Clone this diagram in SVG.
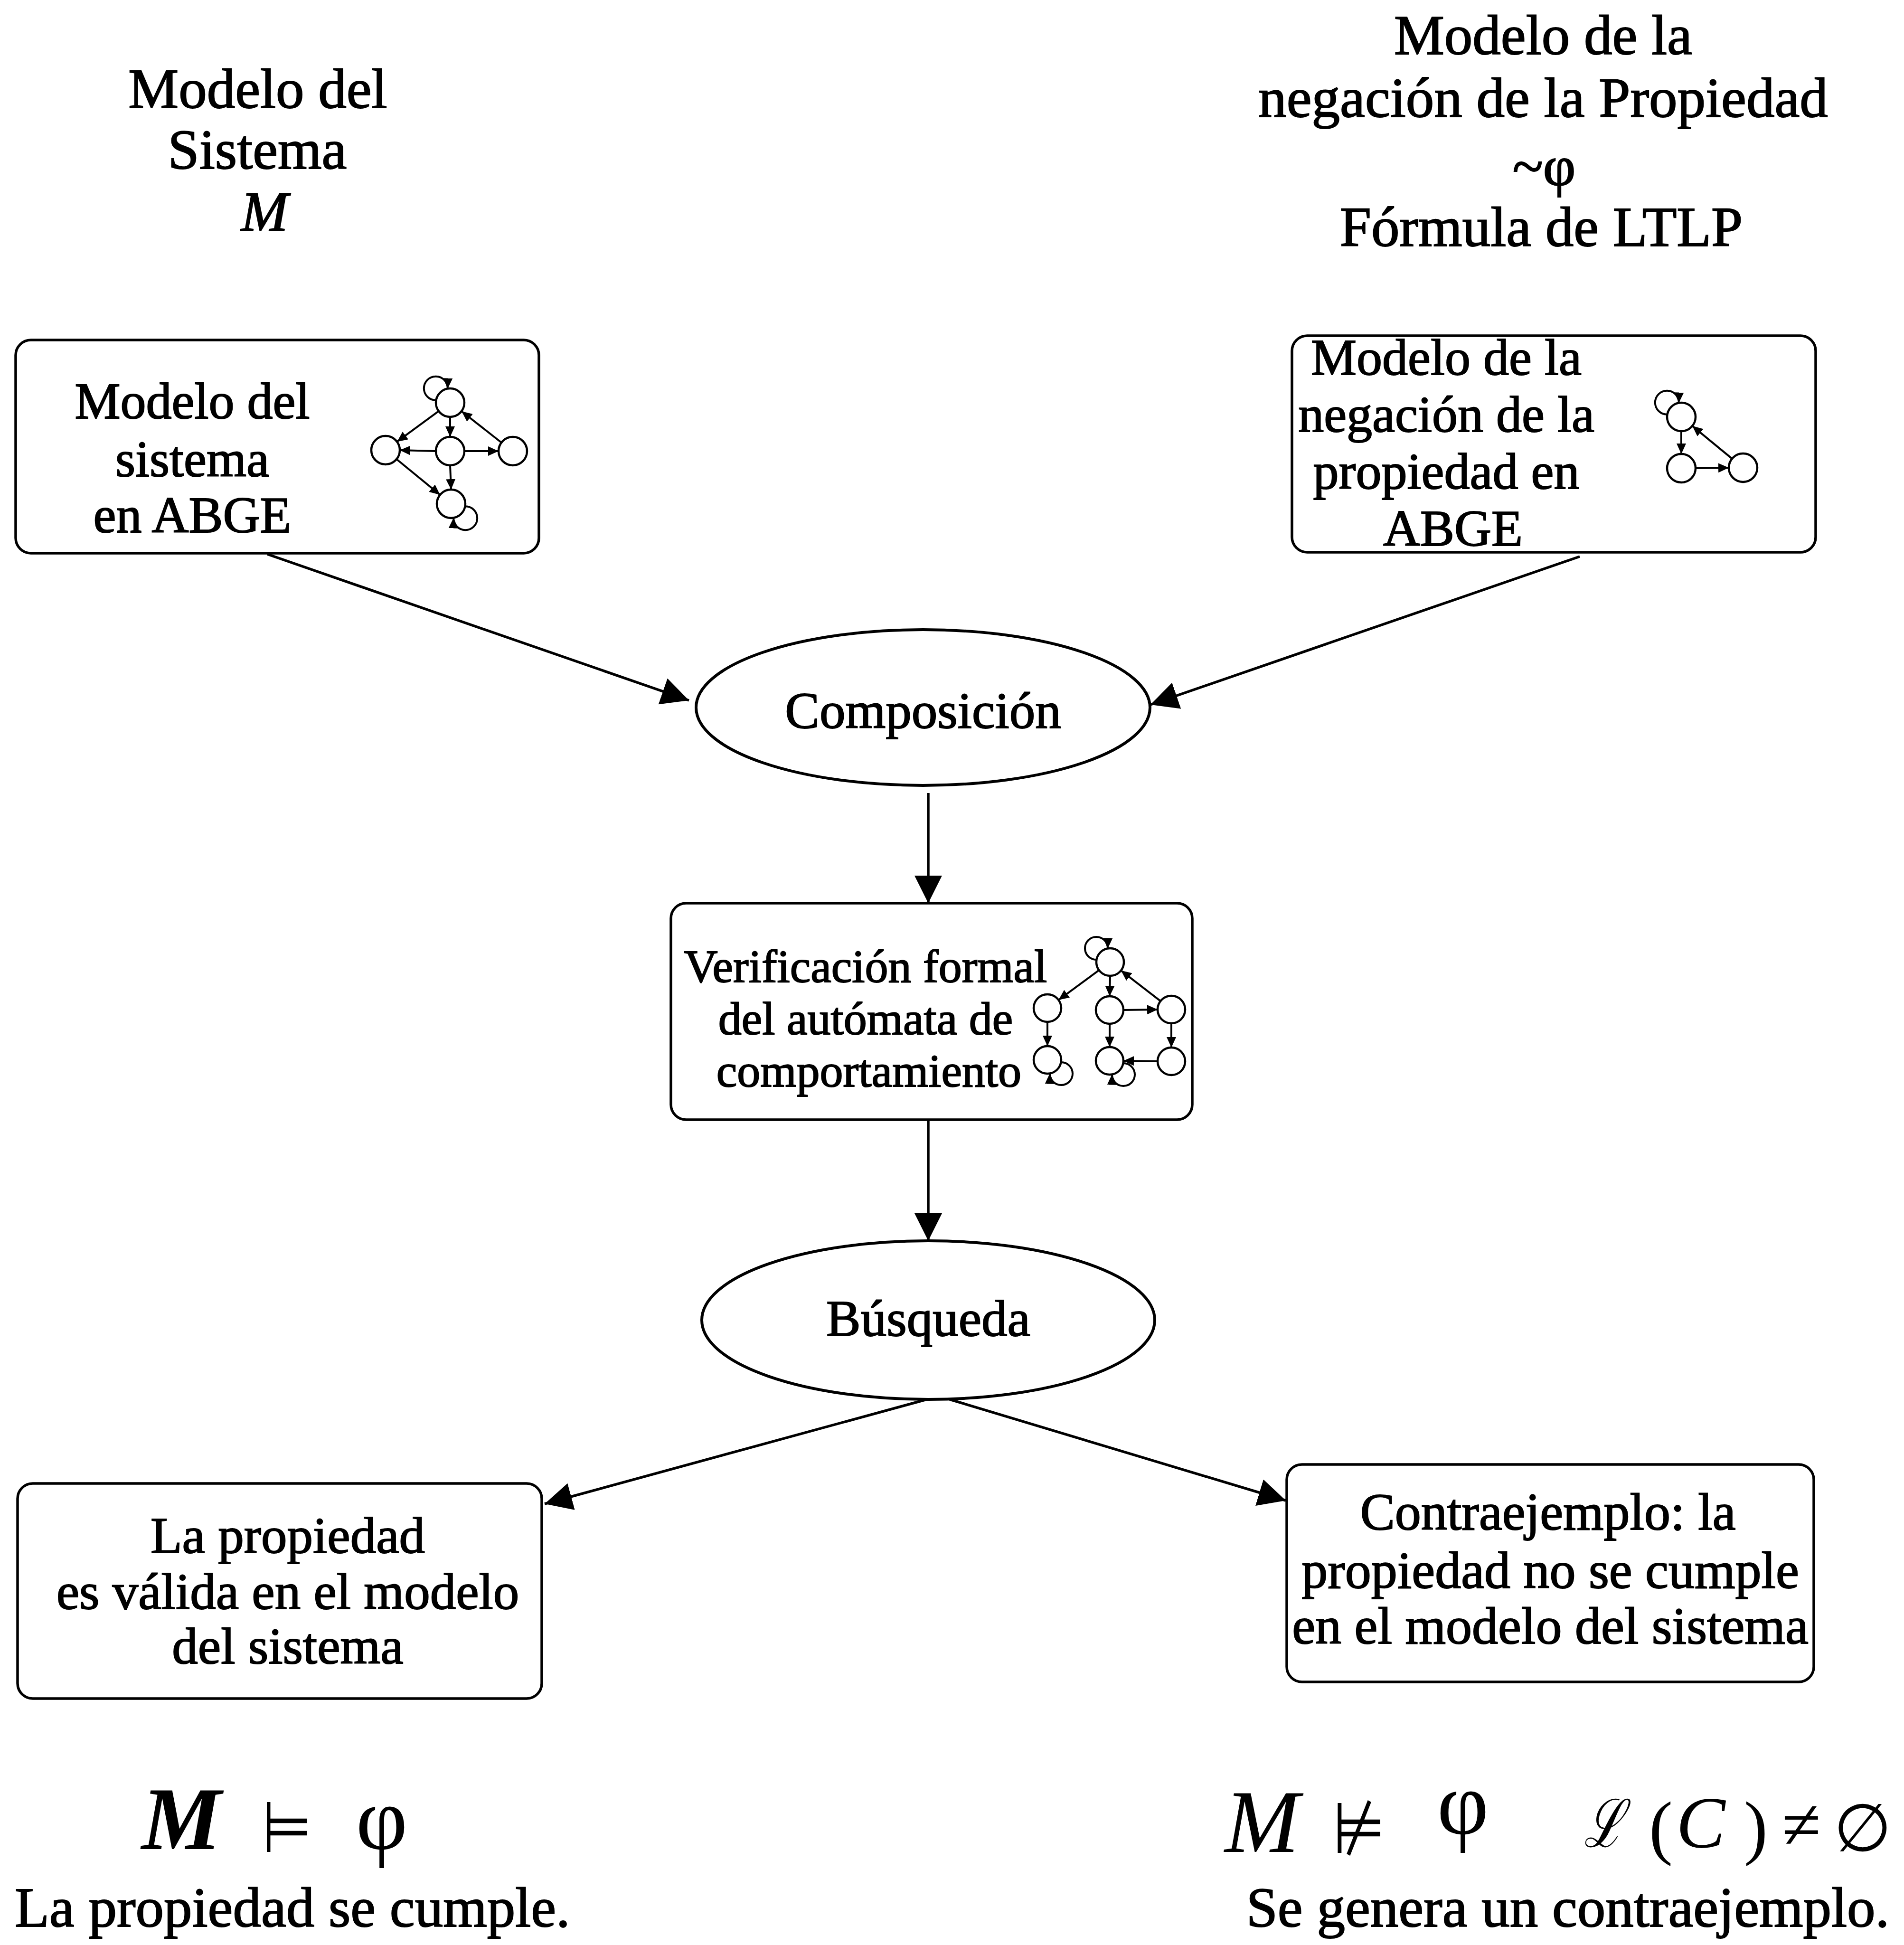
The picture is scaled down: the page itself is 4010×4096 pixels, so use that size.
<svg xmlns="http://www.w3.org/2000/svg" width="4010" height="4096" viewBox="0 0 4010 4096">
  <style>
    .box { fill: #fff; stroke: #000; stroke-width: 5.5; }
    .oval { fill: #fff; stroke: #000; stroke-width: 6; }
    .lbl { font-family: "Liberation Serif", "Times New Roman", serif; fill: #000; stroke: #000; stroke-width: 2; text-anchor: middle; }
    .st { fill: #fff; stroke: #000; stroke-width: 4.5; }
    .tr { fill: none; stroke: #000; stroke-width: 4; marker-end: url(#tip); }
    .conn { fill: none; stroke: #000; stroke-width: 5.5; marker-end: url(#head); }
    .math { font-family: "Liberation Serif", "DejaVu Serif", serif; fill: #000; text-anchor: middle; }
    .sym { font-family: "DejaVu Sans", "Noto Sans", sans-serif; fill: #000; text-anchor: middle; }
  </style>
  <defs>
    <!-- large arrowhead for the flow connectors -->
    <marker id="head" markerUnits="userSpaceOnUse" markerWidth="58" markerHeight="58" refX="58" refY="29" orient="auto">
      <path d="M0,0 L58,29 L0,58 z" fill="#000"/>
    </marker>
    <!-- small arrowhead for automaton transitions -->
    <marker id="tip" markerUnits="userSpaceOnUse" markerWidth="22" markerHeight="20" refX="22" refY="10" orient="auto">
      <path d="M0,0 L22,10 L0,20 z" fill="#000"/>
    </marker>
  </defs>

  <rect x="0" y="0" width="4010" height="4096" fill="#fff"/>

  <!-- headings -->
  <g id="title-system">
    <text class="lbl" x="543" y="227" font-size="119">Modelo del</text>
    <text class="lbl" x="542" y="355" font-size="119">Sistema</text>
    <text class="lbl" x="557" y="486" font-size="119" font-style="italic">M</text>
  </g>
  <g id="title-property">
    <text class="lbl" x="3250" y="114" font-size="119">Modelo de la</text>
    <text class="lbl" x="3250" y="246" font-size="119">negación de la Propiedad</text>
    <text class="lbl" x="3252" y="390" font-size="119">~φ</text>
    <text class="lbl" x="3246" y="518" font-size="119">Fórmula de LTLP</text>
  </g>

  <!-- connectors -->
  <g id="connectors">
    <line class="conn" x1="563" y1="1167" x2="1451" y2="1475"/>
    <line class="conn" x1="3327" y1="1172" x2="2423" y2="1484"/>
    <line class="conn" x1="1955" y1="1670" x2="1955" y2="1902"/>
    <line class="conn" x1="1955" y1="2358" x2="1955" y2="2613"/>
    <line class="conn" x1="1952" y1="2947" x2="1147" y2="3167"/>
    <line class="conn" x1="2000" y1="2947" x2="2708" y2="3160"/>
  </g>

  <!-- system model box -->
  <g id="node-system-abge">
    <rect class="box" x="33" y="716" width="1102" height="449" rx="32" ry="32"/>
    <text class="lbl" x="405" y="881" font-size="108">Modelo del</text>
    <text class="lbl" x="405" y="1003" font-size="108">sistema</text>
    <text class="lbl" x="405" y="1121" font-size="108">en ABGE</text>
    <g id="automaton-system">
      <path class="tr" d="M918.5,842.8 A25,25 0 1 1 942.8,818.5"/>
      <path class="tr" d="M979.5,1066.2 A25,25 0 1 1 955.2,1090.5"/>
      <line class="tr" x1="923.8" y1="865.8" x2="836.2" y2="930.2"/>
      <line class="tr" x1="948" y1="878" x2="948" y2="920"/>
      <line class="tr" x1="1055.7" y1="931.7" x2="972.3" y2="866.3"/>
      <line class="tr" x1="918" y1="950" x2="842" y2="948"/>
      <line class="tr" x1="978" y1="950" x2="1050" y2="950"/>
      <line class="tr" x1="948" y1="980" x2="950" y2="1031"/>
      <line class="tr" x1="835.2" y1="967" x2="926.8" y2="1042"/>
      <circle class="st" cx="948" cy="848" r="30"/>
      <circle class="st" cx="812" cy="948" r="30"/>
      <circle class="st" cx="948" cy="950" r="30"/>
      <circle class="st" cx="1080" cy="950" r="30"/>
      <circle class="st" cx="950" cy="1061" r="30"/>
    </g>
  </g>

  <!-- negated property box -->
  <g id="node-property-abge">
    <rect class="box" x="2721" y="707" width="1103" height="456" rx="32" ry="32"/>
    <text class="lbl" x="3046" y="789" font-size="108">Modelo de la</text>
    <text class="lbl" x="3046" y="909" font-size="108">negación de la</text>
    <text class="lbl" x="3046" y="1029" font-size="108">propiedad en</text>
    <text class="lbl" x="3060" y="1149" font-size="108">ABGE</text>
    <g id="automaton-property">
      <path class="tr" d="M3511.5,872.8 A25,25 0 1 1 3535.8,848.5"/>
      <line class="tr" x1="3541" y1="908" x2="3541" y2="956"/>
      <line class="tr" x1="3571" y1="986" x2="3641" y2="985"/>
      <line class="tr" x1="3647.8" y1="965.9" x2="3564.2" y2="897.1"/>
      <circle class="st" cx="3541" cy="878" r="30"/>
      <circle class="st" cx="3541" cy="986" r="30"/>
      <circle class="st" cx="3671" cy="985" r="30"/>
    </g>
  </g>

  <!-- composition -->
  <g id="node-composicion">
    <ellipse class="oval" cx="1944" cy="1490" rx="478" ry="164"/>
    <text class="lbl" x="1944" y="1533" font-size="109">Composición</text>
  </g>

  <!-- formal verification box -->
  <g id="node-verificacion">
    <rect class="box" x="1413" y="1902" width="1098" height="456" rx="32" ry="32"/>
    <text class="lbl" x="1823" y="2068" font-size="98">Verificación formal</text>
    <text class="lbl" x="1823" y="2178" font-size="98">del autómata de</text>
    <text class="lbl" x="1830" y="2288" font-size="98">comportamiento</text>
    <g id="automaton-product">
      <path class="tr" d="M2309.4,2021 A24,24 0 1 1 2333,1997.4"/>
      <path class="tr" d="M2234.6,2237 A24,24 0 1 1 2211,2260.6"/>
      <path class="tr" d="M2365.6,2239 A24,24 0 1 1 2342,2262.6"/>
      <line class="tr" x1="2314.6" y1="2043.2" x2="2229.4" y2="2105.8"/>
      <line class="tr" x1="2338" y1="2055" x2="2337" y2="2098"/>
      <line class="tr" x1="2444.1" y1="2108.2" x2="2360.9" y2="2043.8"/>
      <line class="tr" x1="2366" y1="2127" x2="2438" y2="2126"/>
      <line class="tr" x1="2206" y1="2152" x2="2206" y2="2203"/>
      <line class="tr" x1="2337" y1="2156" x2="2337" y2="2205"/>
      <line class="tr" x1="2467" y1="2155" x2="2467" y2="2206"/>
      <line class="tr" x1="2438" y1="2235" x2="2366" y2="2234"/>
      <circle class="st" cx="2338" cy="2026" r="29"/>
      <circle class="st" cx="2206" cy="2123" r="29"/>
      <circle class="st" cx="2337" cy="2127" r="29"/>
      <circle class="st" cx="2467" cy="2126" r="29"/>
      <circle class="st" cx="2206" cy="2232" r="29"/>
      <circle class="st" cx="2337" cy="2234" r="29"/>
      <circle class="st" cx="2467" cy="2235" r="29"/>
    </g>
  </g>

  <!-- search -->
  <g id="node-busqueda">
    <ellipse class="oval" cx="1955" cy="2780" rx="477" ry="167"/>
    <text class="lbl" x="1955" y="2813" font-size="109">Búsqueda</text>
  </g>

  <!-- outcomes -->
  <g id="node-valida">
    <rect class="box" x="37" y="3124" width="1104" height="453" rx="32" ry="32"/>
    <text class="lbl" x="606" y="3270" font-size="109">La propiedad</text>
    <text class="lbl" x="606" y="3388" font-size="109">es válida en el modelo</text>
    <text class="lbl" x="606" y="3503" font-size="109">del sistema</text>
  </g>
  <g id="node-contraejemplo">
    <rect class="box" x="2710" y="3084" width="1110" height="458" rx="32" ry="32"/>
    <text class="lbl" x="3260" y="3221" font-size="110">Contraejemplo: la</text>
    <text class="lbl" x="3265" y="3344" font-size="110">propiedad no se cumple</text>
    <text class="lbl" x="3265" y="3461" font-size="110">en el modelo del sistema</text>
  </g>

  <!-- conclusions -->
  <g id="result-holds">
    <text class="math" x="382" y="3894" font-size="189" font-style="italic" font-weight="bold">M</text>
    <text class="sym" transform="translate(604,3900) scale(0.8,1)" font-size="150">⊨</text>
    <text class="math" x="804" y="3894" font-size="189">φ</text>
    <text class="lbl" x="616" y="4057" font-size="119">La propiedad se cumple.</text>
  </g>
  <g id="result-fails">
    <text class="math" x="2658" y="3900" font-size="189" font-style="italic">M</text>
    <text class="sym" transform="translate(2862,3902) scale(0.85,1)" font-size="150">⊭</text>
    <text class="math" x="3081" y="3862" font-size="189">φ</text>
    <text class="math" transform="translate(3378,3889) scale(0.72,1)" font-size="140" font-style="italic">ℒ</text>
    <text class="math" x="3498" y="3898" font-size="150">(</text>
    <text class="math" x="3582" y="3891" font-size="155" font-style="italic">C</text>
    <text class="math" x="3698" y="3898" font-size="150">)</text>
    <text class="math" x="3794" y="3893" font-size="150">≠</text>
    <text class="sym" x="3923" y="3898" font-size="140">∅</text>
    <text class="lbl" x="3302" y="4057" font-size="119">Se genera un contraejemplo.</text>
  </g>
</svg>
